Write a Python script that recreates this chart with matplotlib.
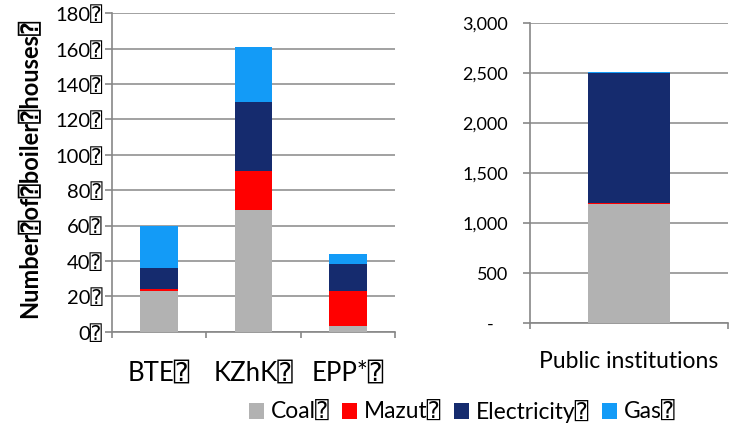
import matplotlib
matplotlib.use("Agg")
import matplotlib.pyplot as plt
from matplotlib.patches import Patch
from matplotlib.ticker import FixedLocator, FixedFormatter

plt.rcParams['font.family'] = ['Lato', 'DejaVu Sans', 'DejaVu Sans Mono']

BOX = "\u2370"

categories = ["BTE", "KZhK", "EPP*"]
coal = [23, 69, 3]
mazut = [1, 22, 20]
electricity = [12, 39, 15]
gas = [24, 31, 6]

public_label = "Public institutions"
public_coal = [1190]
public_mazut = [14]
public_electricity = [1296]
public_gas = [16]

left_ticks = [0, 20, 40, 60, 80, 100, 120, 140, 160, 180]
right_ticks = [0, 500, 1000, 1500, 2000, 2500, 3000]
right_tick_labels = ["-   ", "500", "1,000", "1,500", "2,000", "2,500", "3,000"]

series_names = ["Coal", "Mazut", "Electricity", "Gas"]
colors = ["#b2b2b2", "#ff0000", "#152b6e", "#139bf7"]

GRID = "#878787"

fig = plt.figure(figsize=(7.38, 4.26), dpi=100)
axL = fig.add_axes([0.1518, 0.2214, 0.3835, 0.7474])
axR = fig.add_axes([0.7182, 0.2411, 0.2683, 0.7042])


def stack(ax, xs, series, width):
    bottom = [0] * len(xs)
    for vals, col in zip(series, colors):
        ax.bar(xs, vals, width=width, bottom=bottom, color=col, zorder=3,
               linewidth=0)
        bottom = [b + v for b, v in zip(bottom, vals)]


def style(ax):
    for s in ["top", "right"]:
        ax.spines[s].set_visible(False)
    for s in ["left", "bottom"]:
        ax.spines[s].set_color(GRID)
        ax.spines[s].set_linewidth(1.2)
    ax.yaxis.grid(True, color=GRID, linewidth=1.1, zorder=0)
    ax.set_axisbelow(True)
    ax.tick_params(axis="y", direction="out", length=5, width=1.2, color=GRID)
    ax.tick_params(axis="x", which="minor", direction="out", length=4,
                   width=1.2, color=GRID)
    ax.tick_params(axis="x", which="major", length=0)


# Left chart
xs = list(range(len(categories)))
stack(axL, xs, [coal, mazut, electricity, gas], 0.40)
axL.set_xlim(-0.5, len(categories) - 0.5)
axL.set_ylim(0, 180)
style(axL)
axL.yaxis.set_major_locator(FixedLocator(left_ticks))
axL.yaxis.set_major_formatter(FixedFormatter([f"{t}{BOX}" for t in left_ticks]))
axL.tick_params(axis="y", labelsize=14.5, pad=2)
axL.set_xticks(xs)
axL.set_xticklabels([f"{c}{BOX}" for c in categories], fontsize=18.5)
axL.tick_params(axis="x", which="major", pad=21)
axL.xaxis.set_minor_locator(FixedLocator([-0.5, 0.5, 1.5, 2.5]))

fig.text(0.040, 0.604, f"Number{BOX}of{BOX}boiler{BOX}houses{BOX}",
         rotation=90, fontsize=17, fontweight="bold",
         ha="center", va="center")

# Right chart
stack(axR, [0], [public_coal, public_mazut, public_electricity, public_gas], 0.41)
axR.set_xlim(-0.5, 0.5)
axR.set_ylim(0, 3000)
style(axR)
axR.yaxis.set_major_locator(FixedLocator(right_ticks))
axR.yaxis.set_major_formatter(FixedFormatter(right_tick_labels))
axR.tick_params(axis="y", labelsize=13, pad=11)
axR.set_xticks([0])
axR.set_xticklabels([public_label], fontsize=16.5)
axR.tick_params(axis="x", which="major", pad=20)
axR.xaxis.set_minor_locator(FixedLocator([-0.5, 0.5]))

handles = [Patch(facecolor=c, edgecolor="none") for c in colors]
fig.legend(handles, [f"{n}{BOX}" for n in series_names], loc="center",
           bbox_to_anchor=(0.626, 0.034), ncol=4, frameon=False,
           fontsize=16.4, handlelength=0.66, handleheight=0.66,
           handletextpad=0.3, columnspacing=0.55, borderpad=0,
           borderaxespad=0)

fig.savefig("out.png", dpi=100)
